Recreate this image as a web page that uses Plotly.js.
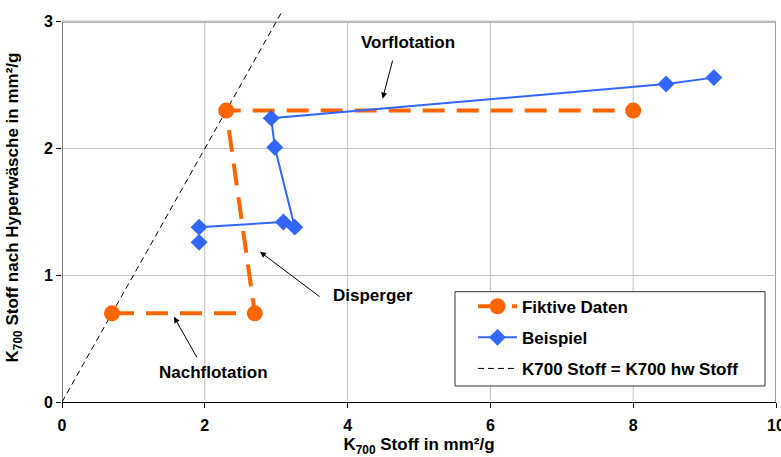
<!DOCTYPE html>
<html>
<head>
<meta charset="utf-8">
<script src="https://cdn.plot.ly/plotly-3.0.1.min.js"></script>
<style>
  html, body { margin: 0; padding: 0; background: #fff; }
  #chart { width: 781px; height: 457px; }
</style>
</head>
<body>
<div id="chart"></div>
<script>
// Fiktive Daten: Nachflotation -> Disperger -> Vorflotation
const fiktivX = [0.7, 2.7, 2.3, 8.0];
const fiktivY = [0.7, 0.7, 2.3, 2.3];

// Beispiel
const beispielX = [9.13, 8.46, 2.93, 2.98, 3.26, 3.10, 1.92, 1.92];
const beispielY = [2.56, 2.51, 2.24, 2.01, 1.38, 1.42, 1.38, 1.26];

// Diagonal K700 Stoff = K700 hw Stoff
const diagX = [0, 3.07];
const diagY = [0, 3.07];

// Axis ticks
const xTicks = [0, 2, 4, 6, 8, 10];
const yTicks = [0, 1, 2, 3];
const xMax = 10;
const yMax = 3;

// Process step labels with their arrows (tail -> head)
const stepLabels = ['Vorflotation', 'Disperger', 'Nachflotation'];
const labelX = [4.84, 4.35, 2.115];
const labelY = [2.836, 0.84, 0.235];
const arrowTailX = [4.636, 3.627, 1.90];
const arrowTailY = [2.707, 0.823, 0.341];
const arrowHeadX = [4.49, 2.773, 1.569];
const arrowHeadY = [2.394, 1.186, 0.672];

const FONT = 'Liberation Sans, Arial, sans-serif';
const boldFont = (size) => ({ family: FONT, size: size, color: '#000', weight: 'bold' });

const traces = [
  {
    x: diagX, y: diagY, type: 'scatter', mode: 'lines',
    name: 'K700 Stoff = K700 hw Stoff',
    line: { color: '#000', width: 1, dash: '6px,4px' },
    legendrank: 3, legendgroup: 'c', hoverinfo: 'skip'
  },
  {
    x: fiktivX, y: fiktivY, type: 'scatter', mode: 'lines+markers',
    name: 'Fiktive Daten',
    line: { color: '#FF6600', width: 4, dash: '22px,12px' },
    marker: { color: '#FF6600', size: 16, symbol: 'circle' },
    legendrank: 1, legendgroup: 'a'
  },
  {
    x: beispielX, y: beispielY, type: 'scatter', mode: 'lines+markers',
    name: 'Beispiel',
    line: { color: '#3366FF', width: 2 },
    marker: { color: '#3366FF', size: 13, symbol: 'diamond' },
    legendrank: 2, legendgroup: 'b'
  }
];

// Plot frame and vertical grid, limited to the value range of the y axis
const shapes = [];
xTicks.filter(v => v > 0 && v < xMax).forEach(v => {
  shapes.push({ type: 'line', xref: 'x', yref: 'y', x0: v, x1: v, y0: 0, y1: yMax,
                line: { color: '#c0c0c0', width: 1 }, layer: 'below' });
});
shapes.push({ type: 'line', xref: 'x', yref: 'y', x0: 0, x1: xMax, y0: yMax, y1: yMax,
              line: { color: '#a0a0a0', width: 2 }, layer: 'below' });
shapes.push({ type: 'line', xref: 'x', yref: 'y', x0: xMax, x1: xMax, y0: 0, y1: yMax,
              line: { color: '#a0a0a0', width: 2 }, layer: 'below' });
shapes.push({ type: 'line', xref: 'x', yref: 'y', x0: 0, x1: 0, y0: 0, y1: yMax,
              line: { color: '#000', width: 1 }, layer: 'above' });
// Legend frame
shapes.push({ type: 'rect', xref: 'paper', yref: 'paper', x0: 0.5504, x1: 0.9846, y0: 0.0411, y1: 0.2836,
              fillcolor: '#fff', line: { color: '#333', width: 1 }, layer: 'above' });

const annotations = [];
stepLabels.forEach((t, i) => {
  annotations.push({ x: labelX[i], y: labelY[i], xref: 'x', yref: 'y', text: t,
                     showarrow: false, font: boldFont(17) });
  annotations.push({ x: arrowHeadX[i], y: arrowHeadY[i], xref: 'x', yref: 'y',
                     ax: arrowTailX[i], ay: arrowTailY[i], axref: 'x', ayref: 'y',
                     text: '', showarrow: true, arrowhead: 2, arrowsize: 1.2,
                     arrowwidth: 1, arrowcolor: '#000', standoff: 0, startstandoff: 0 });
});

const layout = {
  width: 781, height: 457,
  margin: { l: 62, r: 5, t: 13, b: 55, autoexpand: false },
  paper_bgcolor: '#fff', plot_bgcolor: '#fff',
  showlegend: true,
  font: { family: FONT, color: '#000' },
  xaxis: {
    range: [0, xMax], tickvals: xTicks, ticktext: xTicks.map(String),
    showgrid: false, zeroline: false,
    showline: true, linecolor: '#000', linewidth: 1,
    ticks: 'outside', ticklen: 5, tickcolor: '#000',
    ticklabeloverflow: 'allow', ticklabelstandoff: 4,
    automargin: true,
    tickfont: boldFont(16),
    title: { text: 'K<sub>700</sub> Stoff in mm²/g', font: boldFont(17), standoff: 5 }
  },
  yaxis: {
    range: [0, 3.07], tickvals: yTicks, ticktext: yTicks.map(String),
    showgrid: true, gridcolor: '#c0c0c0', gridwidth: 1, zeroline: false,
    showline: false,
    ticks: 'outside', ticklen: 5, tickcolor: '#000',
    tickfont: boldFont(16),
    title: { text: 'K<sub>700</sub> Stoff nach Hyperwäsche in mm²/g', font: boldFont(17) }
  },
  legend: {
    x: 0.5756, y: 0.2913, xanchor: 'left', yanchor: 'top',
    bgcolor: 'rgba(0,0,0,0)', borderwidth: 0,
    font: boldFont(17), tracegroupgap: 6, itemwidth: 39,
    traceorder: 'grouped'
  },
  shapes: shapes,
  annotations: annotations
};

Plotly.newPlot('chart', traces, layout, { displayModeBar: false, staticPlot: true });
</script>
</body>
</html>
